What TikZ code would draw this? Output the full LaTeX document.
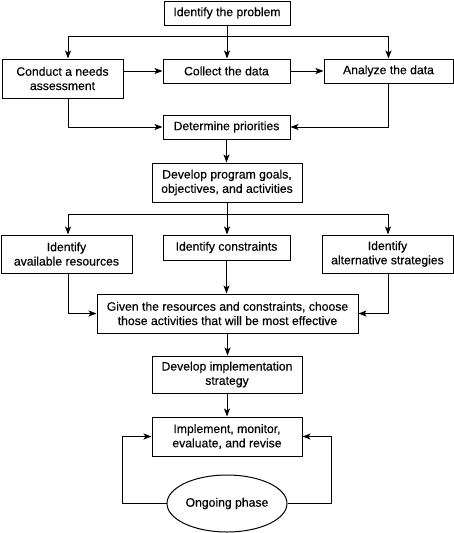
\documentclass[tikz,border=0pt]{standalone}
\usepackage{fontspec}
\setmainfont[UprightFeatures={FakeBold=0.3}]{Liberation Sans}
\usetikzlibrary{arrows.meta,shapes.geometric,calc}
\begin{document}
\begin{tikzpicture}[x=1pt,y=1pt,
  box/.style={draw,line width=1pt,inner sep=0pt,align=center,
    font=\fontsize{12.2}{14.3}\selectfont},
  oval/.style={draw,ellipse,line width=1pt,inner sep=0pt,
    font=\fontsize{12.2}{14.3}\selectfont},
  arr/.style={line width=1pt,-{Stealth[length=8pt,width=6pt,inset=2pt]}}]
\useasboundingbox (0,0) rectangle (454,-533);
\node[box,minimum width=126pt,minimum height=24pt] (prob) at (227,-13) {Identify the problem};
\node[box,minimum width=121pt,minimum height=39pt] (needs) at (62.5,-78.5) {Conduct a needs\\assessment};
\node[box,minimum width=127pt,minimum height=24pt] (collect) at (226.5,-71) {Collect the data};
\node[box,minimum width=129pt,minimum height=24pt] (analyze) at (388.5,-71) {Analyze the data};
\node[box,minimum width=127pt,minimum height=24pt] (prio) at (226.5,-127) {Determine priorities};
\node[box,minimum width=150pt,minimum height=39pt] (goals) at (227,-182.5) {Develop program goals,\\objectives, and activities};
\node[box,minimum width=131pt,minimum height=38pt] (res) at (66.5,-254) {Identify\\available resources};
\node[box,minimum width=127pt,minimum height=25pt] (cons) at (226.5,-247.5) {Identify constraints};
\node[box,minimum width=131pt,minimum height=38pt] (alt) at (387.5,-254) {Identify\\alternative strategies};
\node[box,minimum width=261pt,minimum height=39pt] (given) at (227.5,-313.5) {Given the resources and constraints, choose\\those activities that will be most effective};
\node[box,minimum width=150pt,minimum height=37pt] (strat) at (227,-374.5) {Develop implementation\\strategy};
\node[box,minimum width=150pt,minimum height=39pt] (impl) at (227,-436.5) {Implement, monitor,\\evaluate, and revise};
\node[oval,minimum width=120pt,minimum height=57pt] (ong) at (227,-503.5) {Ongoing phase};
% top fan-out
\coordinate (j1) at (227,-36);
\draw[arr] (prob.south) -- (prob.south |- collect.north);
\draw[arr] (j1) -| ([xshift=5.5pt]needs.north);
\draw[arr] (j1) -| (analyze.north);
\draw[arr] (needs.east |- collect.west) -- (collect.west);
\draw[arr] (collect.east) -- (analyze.west);
\draw[arr] ([xshift=5.5pt]needs.south) |- (prio.west);
\draw[arr] (analyze.south) |- (prio.east);
\draw[arr] (prio.south) -- (prio.south |- goals.north);
% second fan-out
\coordinate (j2) at (227,-214);
\draw[arr] (goals.south) -- (goals.south |- cons.north);
\draw[arr] (j2) -| ([xshift=1.5pt]res.north);
\draw[arr] (j2) -| ([xshift=0.5pt]alt.north);
\draw[arr] ([xshift=1.5pt]res.south) |- (given.west);
\draw[arr] (cons.south) -- (cons.south |- given.north);
\draw[arr] ([xshift=0.5pt]alt.south) |- (given.east);
\draw[arr] (given.south) -- (given.south |- strat.north);
\draw[arr] (strat.south) -- (impl.north);
% loop
\draw[arr] (ong.west) -- ++(-44,0) |- (impl.west);
\draw[arr] (ong.east) -- ++(44,0) |- (impl.east);
\end{tikzpicture}
\end{document}
